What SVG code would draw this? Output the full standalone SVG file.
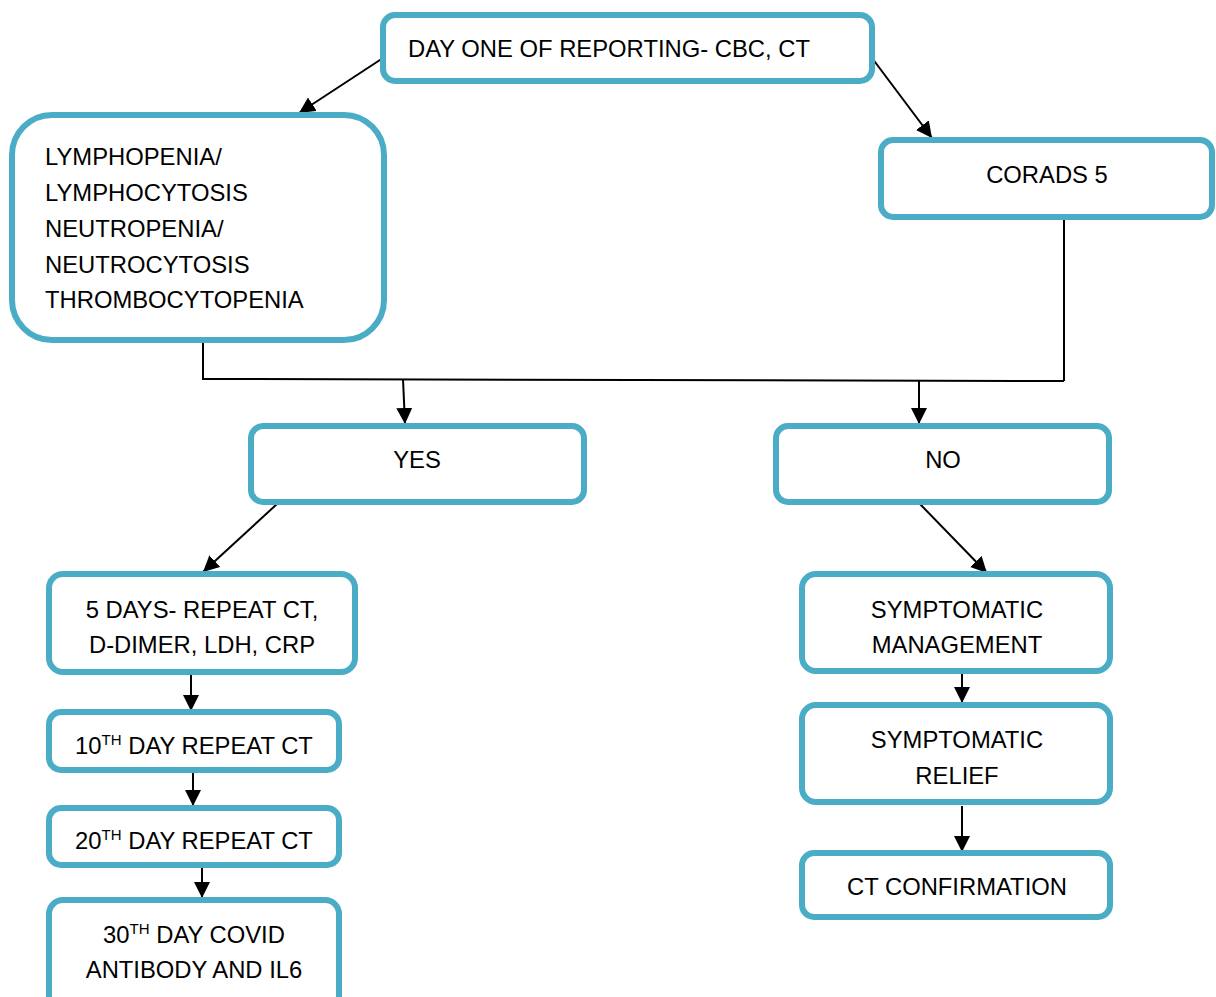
<svg xmlns="http://www.w3.org/2000/svg" width="1216" height="997" viewBox="0 0 1216 997">
  <style>
    .box { fill: #ffffff; stroke: #4bacc6; stroke-width: 6; }
    .t { font-family: "Liberation Sans", Arial, sans-serif; font-size: 23.8px; fill: #000000; }
    .c { text-anchor: middle; }
    .sup { font-size: 15px; }
    .ln { stroke: #000000; stroke-width: 2; fill: none; }
    .arr { stroke: #000000; stroke-width: 2; fill: none; marker-end: url(#ah); }
  </style>
  <defs>
    <marker id="ah" markerUnits="userSpaceOnUse" markerWidth="17" markerHeight="17" refX="16" refY="8" orient="auto">
      <path d="M0,0 L16,8 L0,16 z" fill="#000000"/>
    </marker>
  </defs>
  <rect width="1216" height="997" fill="#ffffff"/>

  <g id="connectors">
    <line class="arr" x1="383" y1="58" x2="299" y2="113"/>
    <line class="arr" x1="872" y1="58" x2="932" y2="138"/>
    <polyline class="ln" points="203,340 203,379 1064,381"/>
    <line class="ln" x1="1064" y1="217" x2="1064" y2="381"/>
    <line class="arr" x1="403" y1="379" x2="405" y2="424"/>
    <line class="arr" x1="919" y1="381" x2="919" y2="424"/>
    <line class="arr" x1="277" y1="504" x2="203" y2="572"/>
    <line class="arr" x1="919" y1="503" x2="987" y2="573"/>
    <line class="arr" x1="191" y1="675" x2="191" y2="711"/>
    <line class="arr" x1="193" y1="773" x2="193" y2="806"/>
    <line class="arr" x1="202" y1="868" x2="202" y2="898"/>
    <line class="arr" x1="962" y1="674" x2="962" y2="703"/>
    <line class="arr" x1="962" y1="806" x2="962" y2="852"/>
  </g>

  <g id="day-one">
    <rect class="box" x="383" y="15" width="489" height="66" rx="12"/>
    <text class="t" x="408" y="57">DAY ONE OF REPORTING- CBC, CT</text>
  </g>

  <g id="blood-findings">
    <rect class="box" x="12" y="115" width="372" height="225" rx="40"/>
    <text class="t" x="45" y="165">LYMPHOPENIA/</text>
    <text class="t" x="45" y="201">LYMPHOCYTOSIS</text>
    <text class="t" x="45" y="237">NEUTROPENIA/</text>
    <text class="t" x="45" y="273">NEUTROCYTOSIS</text>
    <text class="t" x="45" y="308">THROMBOCYTOPENIA</text>
  </g>

  <g id="corads">
    <rect class="box" x="881" y="140" width="331" height="77" rx="12"/>
    <text class="t c" x="1047" y="183">CORADS 5</text>
  </g>

  <g id="yes">
    <rect class="box" x="251" y="426" width="333" height="76" rx="12"/>
    <text class="t c" x="417" y="468">YES</text>
  </g>

  <g id="no">
    <rect class="box" x="776" y="426" width="333" height="76" rx="12"/>
    <text class="t c" x="943" y="468">NO</text>
  </g>

  <g id="five-days">
    <rect class="box" x="49" y="574" width="306" height="98" rx="14"/>
    <text class="t c" x="202" y="618">5 DAYS- REPEAT CT,</text>
    <text class="t c" x="202" y="653">D-DIMER, LDH, CRP</text>
  </g>

  <g id="day-10">
    <rect class="box" x="49" y="712" width="290" height="58" rx="12"/>
    <text class="t c" x="194" y="754">10<tspan class="sup" dy="-9">TH</tspan><tspan dy="9"> DAY REPEAT CT</tspan></text>
  </g>

  <g id="day-20">
    <rect class="box" x="49" y="808" width="290" height="57" rx="12"/>
    <text class="t c" x="194" y="849">20<tspan class="sup" dy="-9">TH</tspan><tspan dy="9"> DAY REPEAT CT</tspan></text>
  </g>

  <g id="day-30">
    <rect class="box" x="49" y="900" width="290" height="110" rx="14"/>
    <text class="t c" x="194" y="943">30<tspan class="sup" dy="-9">TH</tspan><tspan dy="9"> DAY COVID</tspan></text>
    <text class="t c" x="194" y="978">ANTIBODY AND IL6</text>
  </g>

  <g id="symptomatic-management">
    <rect class="box" x="802" y="574" width="308" height="97" rx="14"/>
    <text class="t c" x="957" y="618">SYMPTOMATIC</text>
    <text class="t c" x="957" y="653">MANAGEMENT</text>
  </g>

  <g id="symptomatic-relief">
    <rect class="box" x="802" y="705" width="308" height="97" rx="14"/>
    <text class="t c" x="957" y="748">SYMPTOMATIC</text>
    <text class="t c" x="957" y="784">RELIEF</text>
  </g>

  <g id="ct-confirmation">
    <rect class="box" x="802" y="853" width="308" height="64" rx="12"/>
    <text class="t c" x="957" y="895">CT CONFIRMATION</text>
  </g>
</svg>
